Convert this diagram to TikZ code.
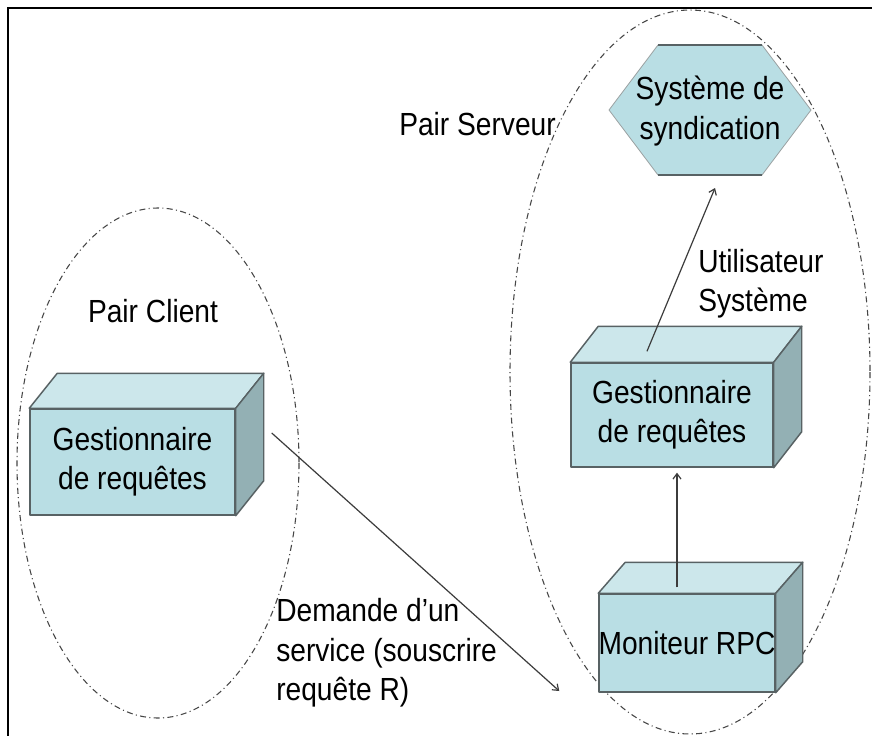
\documentclass[tikz,border=0pt]{standalone}
\usepackage{fontspec}
\setmainfont[FakeStretch=0.88]{Liberation Sans}
\usetikzlibrary{arrows.meta,calc}
\definecolor{facefront}{RGB}{185,222,228}
\definecolor{facetop}{RGB}{204,231,235}
\definecolor{faceside}{RGB}{147,176,180}
\definecolor{edgegray}{RGB}{88,98,100}
\definecolor{linegray}{RGB}{60,60,60}
\definecolor{groupgray}{RGB}{70,70,70}
\tikzset{
  labeltext/.style={font=\fontsize{24}{29.5}\selectfont, inner sep=0pt},
  frontface/.style={labeltext, align=center, fill=facefront, draw=edgegray,
    line width=1.1pt, line join=round},
  topface/.style={fill=facetop, draw=edgegray, line width=1.1pt, line join=round},
  sideface/.style={fill=faceside, draw=edgegray, line width=1.1pt, line join=round},
  hexface/.style={fill=facefront, draw=edgegray!60, line width=0.6pt},
  hexedge/.style={draw=edgegray, line width=1.3pt},
  groupline/.style={draw=groupgray, line width=0.8pt,
    dash pattern=on 4.5pt off 2.5pt on 0.8pt off 2.5pt},
  conn/.style={draw=linegray, line width=0.9pt,
    -{Straight Barb[length=4pt,width=6pt]}},
  frame/.style={draw=black, line width=2pt}
}
% top and right faces of a box whose front face is node #1, depth (#2,#3)
\newcommand\boxfaces[3]{%
  \filldraw[topface] (#1.north west) -- ++(#2,-#3)
    -- ([shift={(#2,-#3)}]#1.north east) -- (#1.north east) -- cycle;
  \filldraw[sideface] (#1.north east) -- ++(#2,-#3)
    -- ([shift={(#2,-#3)}]#1.south east) -- (#1.south east) -- cycle;
}
\begin{document}
\begin{tikzpicture}[x=0.75pt,y=-0.75pt]
\useasboundingbox (0,0) rectangle (872,736);
\fill[white] (0,0) rectangle (872,736);
\draw[frame] (8,736) -- (8,8) -- (872,8);

% peer groups
\draw[groupline] (158,463) ellipse [x radius=141, y radius=255];
\draw[groupline] (690,372) ellipse [x radius=180, y radius=362];

% labels
\node[labeltext, anchor=west] (lblServeur) at (399,124) {Pair Serveur};
\node[labeltext] (lblClient) at (153,311) {Pair Client};
\node[labeltext, anchor=west, align=left] (lblUser) at (698,284)
  {Utilisateur\\Système};
\node[labeltext, anchor=west, align=left] (lblDemande) at (276,653)
  {Demande d’un\\service (souscrire\\requête R)};

% client request manager
\node[frontface, minimum width=153.75pt, minimum height=79.5pt] (client)
  at (132.5,462) {Gestionnaire\\de requêtes};
\boxfaces{client}{28}{35}

% server request manager
\node[frontface, minimum width=151.5pt, minimum height=78pt] (srv)
  at (672,415) {Gestionnaire\\de requêtes};
\boxfaces{srv}{28}{36}

% RPC monitor
\node[frontface, minimum width=132pt, minimum height=73.5pt] (rpc)
  at (687,643) {\makebox[0pt]{Moniteur RPC}};
\boxfaces{rpc}{27}{31}

% syndication system
\filldraw[hexface] (609,110) -- (658,45) -- (762,45) -- (811,110)
  -- (762,175) -- (658,175) -- cycle;
\draw[hexedge] (658,45) -- (762,45);
\draw[hexedge] (658,175) -- (762,175);
\node[labeltext, align=center] (syn) at (710,111) {Système de\\syndication};

% connectors
\draw[conn] ($(client.east)+(36,-29)$) -- ($(rpc.west)+(-39,48)$);
\draw[conn] ($(rpc.north)+(-10,-6)$) -- ($(srv.south)+(5,5)$);
\draw[conn] ($(srv.north)+(-25,-11)$) -- ($(syn)+(5,77)$);
\end{tikzpicture}
\end{document}
